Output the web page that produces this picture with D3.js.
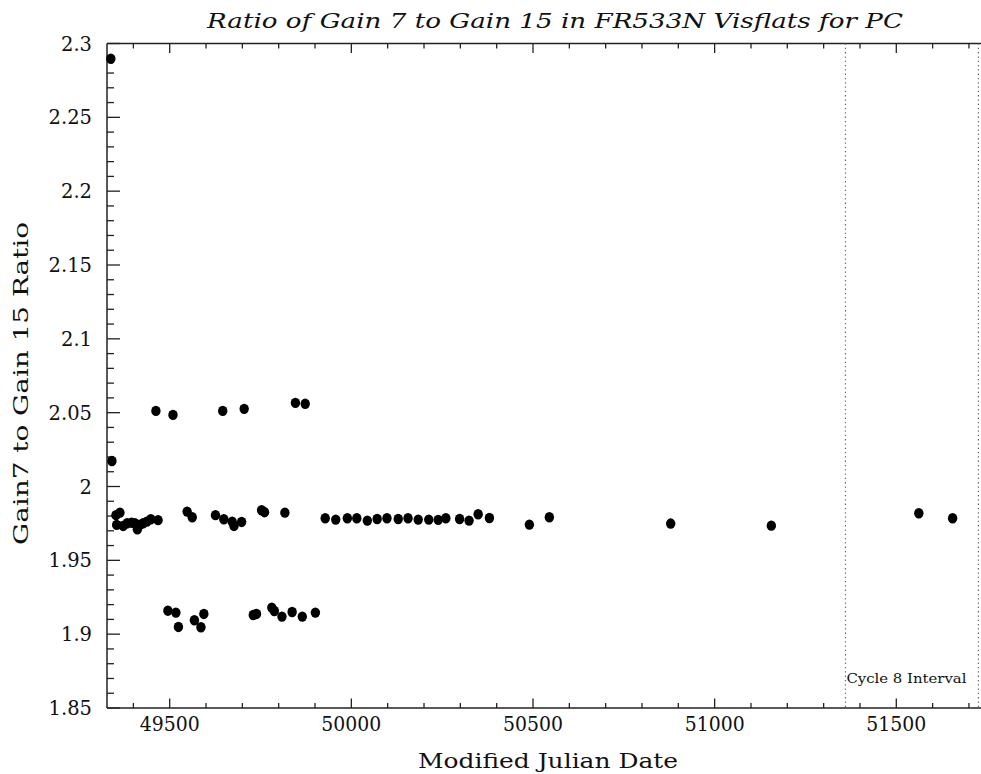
<!DOCTYPE html>
<html>
<head>
<meta charset="utf-8">
<script src="https://cdn.jsdelivr.net/npm/d3@7"></script>
<style>
html,body{margin:0;padding:0;background:#fff;}
svg{display:block;}
text{font-family:"DejaVu Serif","Liberation Serif",serif;fill:#111;}
</style>
</head>
<body>
<svg id="chart" width="981" height="774"></svg>
<script>
// ---- data (MJD, gain7/gain15 ratio) ----
const mjd = [
  49338, 49341,
  49352, 49363, 49354, 49372, 49383, 49395, 49404, 49411, 49418, 49427, 49437, 49448, 49468,
  49462, 49509, 49646, 49705, 49846, 49873,
  49548, 49562, 49626, 49649, 49672, 49677, 49698, 49753, 49761, 49817,
  49928, 49957, 49989, 50015, 50044, 50071, 50098, 50129, 50156, 50184, 50213, 50239, 50260,
  50298, 50324, 50349, 50380, 50490, 50545, 50879, 51156, 51562, 51655,
  49495, 49517, 49524, 49568, 49586, 49594, 49730, 49739, 49781, 49788, 49809, 49837, 49865, 49901
];
const ratio = [
  2.2897, 2.0173,
  1.9806, 1.9823, 1.9740, 1.9733, 1.9751, 1.9755, 1.9751, 1.9710, 1.9740, 1.9751, 1.9762, 1.9778, 1.9772,
  2.0512, 2.0485, 2.0512, 2.0526, 2.0566, 2.0560,
  1.9830, 1.9792, 1.9806, 1.9778, 1.9762, 1.9733, 1.9760, 1.9839, 1.9826, 1.9823,
  1.9785, 1.9776, 1.9785, 1.9785, 1.9769, 1.9780, 1.9785, 1.9780, 1.9785, 1.9776, 1.9776, 1.9774, 1.9785,
  1.9780, 1.9769, 1.9812, 1.9787, 1.9742, 1.9792, 1.9749, 1.9735, 1.9819, 1.9785,
  1.9159, 1.9146, 1.9049, 1.9094, 1.9047, 1.9137, 1.9130, 1.9137, 1.9180, 1.9157, 1.9119, 1.9150, 1.9119, 1.9146
];
const xTickValues = [49500, 50000, 50500, 51000, 51500];
const yTickValues = [1.85, 1.9, 1.95, 2.0, 2.05, 2.1, 2.15, 2.2, 2.25, 2.3];
const yTickLabels = ["1.85", "1.9", "1.95", "2", "2.05", "2.1", "2.15", "2.2", "2.25", "2.3"];
const cycle8 = [51360, 51726];
const titleText = "Ratio of Gain 7 to Gain 15 in FR533N Visflats for PC";
const xLabelText = "Modified Julian Date";
const yLabelText = "Gain7 to Gain 15 Ratio";
const cycleLabelText = "Cycle 8 Interval";

// ---- layout ----
const svg = d3.select("#chart");
const pLeft = 107, pTop = 43.5, pBottom = 708, pRight = 990;
const x = d3.scaleLinear().domain([49500, 51500]).range([169.7, 896.3]);
const y = d3.scaleLinear().domain([1.85, 2.3]).range([pBottom, pTop]);
const axisColor = "#222";

const g = svg.append("g");
g.append("line").attr("x1", pLeft).attr("x2", pRight).attr("y1", pBottom).attr("y2", pBottom)
  .attr("stroke", axisColor).attr("stroke-width", 1.5);
g.append("line").attr("x1", pLeft).attr("x2", pRight).attr("y1", pTop).attr("y2", pTop)
  .attr("stroke", axisColor).attr("stroke-width", 1.5);
g.append("line").attr("x1", pLeft).attr("x2", pLeft).attr("y1", pTop).attr("y2", pBottom)
  .attr("stroke", axisColor).attr("stroke-width", 1.5);

// x ticks (bottom & top)
const xDom = [x.invert(pLeft), x.invert(pRight)];
const xMinor = d3.range(Math.ceil(xDom[0] / 100) * 100, xDom[1], 100);
xMinor.forEach(v => {
  const major = v % 500 === 0;
  const len = major ? 9.5 : 5;
  g.append("line").attr("x1", x(v)).attr("x2", x(v)).attr("y1", pBottom).attr("y2", pBottom - len)
    .attr("stroke", axisColor).attr("stroke-width", 1.3);
  g.append("line").attr("x1", x(v)).attr("x2", x(v)).attr("y1", pTop).attr("y2", pTop + len)
    .attr("stroke", axisColor).attr("stroke-width", 1.3);
});
xTickValues.forEach(v => {
  g.append("text").attr("x", x(v)).attr("y", 731).attr("text-anchor", "middle")
    .attr("font-size", 19.5).attr("textLength", 60).attr("lengthAdjust", "spacingAndGlyphs")
    .text(d3.format("d")(v));
});

// y ticks
const yMinor = d3.range(185, 231, 1).map(v => v / 100);
yMinor.forEach((v, i) => {
  const major = (i % 5) === 0;
  const len = major ? 13 : 7;
  g.append("line").attr("x1", pLeft).attr("x2", pLeft + len).attr("y1", y(v)).attr("y2", y(v))
    .attr("stroke", axisColor).attr("stroke-width", 1.3);
});
yTickValues.forEach((v, i) => {
  g.append("text").attr("x", 92).attr("y", y(v)).attr("dy", "0.36em").attr("text-anchor", "end")
    .attr("font-size", 19.5).text(yTickLabels[i]);
});

// cycle 8 dotted lines
cycle8.forEach(v => {
  g.append("line").attr("x1", x(v)).attr("x2", x(v)).attr("y1", pTop).attr("y2", pBottom)
    .attr("stroke", "#666").attr("stroke-width", 1.2).attr("stroke-dasharray", "1.3,3");
});
g.append("text").attr("x", x(cycle8[0]) + 1).attr("y", 683).attr("font-size", 13)
  .attr("textLength", 120).attr("lengthAdjust", "spacingAndGlyphs").text(cycleLabelText);

// points
g.selectAll("ellipse.pt").data(mjd.map((d, i) => [d, ratio[i]])).enter()
  .append("ellipse").attr("class", "pt")
  .attr("cx", d => x(d[0])).attr("cy", d => y(d[1]))
  .attr("rx", 4.7).attr("ry", 5.2).attr("fill", "#000");

// titles
svg.append("text").attr("x", 207).attr("y", 28).attr("font-size", 21).attr("font-style", "italic")
  .attr("textLength", 696).attr("lengthAdjust", "spacingAndGlyphs").text(titleText);
svg.append("text").attr("x", 418).attr("y", 768).attr("font-size", 20.5)
  .attr("textLength", 260).attr("lengthAdjust", "spacingAndGlyphs").text(xLabelText);
svg.append("text").attr("transform", "translate(28,545) rotate(-90)").attr("font-size", 21)
  .attr("textLength", 323).attr("lengthAdjust", "spacingAndGlyphs").text(yLabelText);
</script>
</body>
</html>
